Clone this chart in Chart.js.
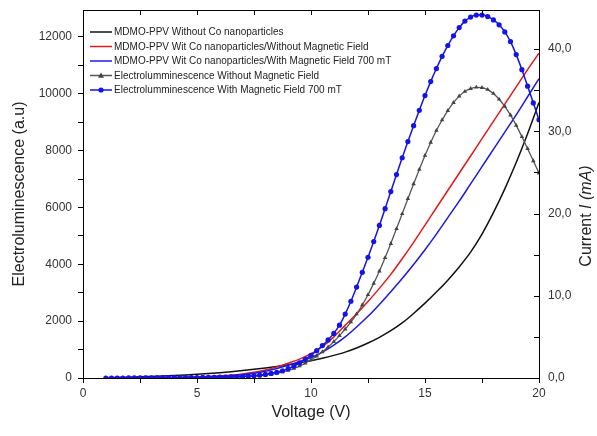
<!DOCTYPE html>
<html><head><meta charset="utf-8">
<script src="https://cdn.jsdelivr.net/npm/chart.js@4"></script>
<style>html,body{margin:0;padding:0;background:#fff;}</style>
</head><body>
<canvas id="c" width="597" height="436" style="width:597px;height:436px;display:block"></canvas>
<script>
// ---- data ----
const voltageEL = [1.0,1.25,1.5,1.75,2.0,2.25,2.5,2.75,3.0,3.25,3.5,3.75,4.0,4.25,4.5,4.75,5.0,5.25,5.5,5.75,6.0,6.25,6.5,6.75,7.0,7.25,7.5,7.75,8.0,8.25,8.5,8.75,9.0,9.25,9.5,9.75,10.0,10.25,10.5,10.75,11.0,11.25,11.5,11.75,12.0,12.25,12.5,12.75,13.0,13.25,13.5,13.75,14.0,14.25,14.5,14.75,15.0,15.25,15.5,15.75,16.0,16.25,16.5,16.75,17.0,17.25,17.5,17.75,18.0,18.25,18.5,18.75,19.0,19.25,19.5,19.75,20.0];
const elWithoutField = [0,0,0,0,0,5,5,5,5,5,5,10,10,10,10,15,15,15,20,20,25,30,35,40,50,60,70,85,105,135,170,215,270,340,420,520,640,770,920,1090,1280,1490,1720,1970,2250,2570,2930,3330,3760,4230,4730,5250,5780,6310,6830,7340,7830,8290,8710,9080,9410,9690,9920,10080,10180,10230,10220,10150,10010,9810,9560,9250,8890,8490,8070,7640,7210];
const elWithField = [0,0,0,0,5,5,5,5,5,5,10,10,10,10,15,15,15,20,20,25,30,35,40,45,55,65,80,100,125,160,200,255,330,420,530,660,800,960,1140,1340,1570,1860,2250,2700,3200,3720,4250,4800,5370,5960,6560,7160,7750,8320,8880,9420,9940,10430,10890,11320,11700,12040,12330,12560,12700,12770,12770,12720,12600,12430,12180,11840,11380,10850,10270,9680,9090];

const voltageI = [1.0,1.5,2.0,2.5,3.0,3.5,4.0,4.5,5.0,5.5,6.0,6.5,7.0,7.5,8.0,8.5,9.0,9.5,10.0,10.5,11.0,11.5,12.0,12.5,13.0,13.5,14.0,14.5,15.0,15.5,16.0,16.5,17.0,17.5,18.0,18.5,19.0,19.5,20.0];
const currentNoCo = [0.04,0.07,0.1,0.14,0.19,0.24,0.3,0.37,0.45,0.54,0.64,0.76,0.9,1.05,1.22,1.4,1.6,1.85,2.1,2.4,2.75,3.15,3.65,4.25,4.95,5.75,6.7,7.85,9.1,10.45,11.9,13.5,15.3,17.5,20.1,23.0,26.2,29.7,33.5];
const currentCoNoField = [0,0,0,0.02,0.03,0.05,0.07,0.1,0.13,0.18,0.25,0.35,0.5,0.7,0.98,1.35,1.8,2.3,2.95,3.8,5.0,6.4,7.8,9.3,10.9,12.6,14.5,16.5,18.6,20.7,22.8,24.9,27.0,29.1,31.2,33.3,35.4,37.5,39.5];
const currentCoField = [0,0,0,0.01,0.02,0.03,0.05,0.07,0.1,0.14,0.2,0.28,0.4,0.58,0.82,1.15,1.55,2.0,2.5,3.15,4.0,5.0,6.2,7.5,8.95,10.5,12.1,13.8,15.6,17.5,19.5,21.5,23.6,25.7,27.8,29.9,32.0,34.2,36.4];

// tick positions (major ones get labels)
const xTicks = [0,2.5,5,7.5,10,12.5,15,17.5,20];
const xLabelTicks = [0,5,10,15,20];
const yTicks = [0,1000,2000,3000,4000,5000,6000,7000,8000,9000,10000,11000,12000];
const yLabelTicks = [0,2000,4000,6000,8000,10000,12000];
const y2Ticks = [0,5,10,15,20,25,30,35,40];
const y2LabelTicks = [0,10,20,30,40];

const seriesLabels = [
  'MDMO-PPV Without Co nanoparticles',
  'MDMO-PPV Wit Co nanoparticles/Without Magnetic Field',
  'MDMO-PPV Wit Co nanoparticles/With Magnetic Field 700 mT',
  'Electrolumminescence Without Magnetic Field',
  'Electrolumminescence With Magnetic Field 700 mT'
];
const xTitle = 'Voltage (V)';
const yTitle = 'Electroluminescence (a.u)';
const y2TitleParts = ['Current ', 'I (mA)'];

const FONT = '"Liberation Sans", Arial, sans-serif';
const pts = (xs, ys) => xs.map((x, i) => ({x, y: ys[i]}));
const setTicks = arr => s => { s.ticks = arr.map(v => ({value: v})); };
const fitV = w => s => { s.width = w; s.paddingTop = 0; s.paddingBottom = 0; };

const inwardTicks = {
  id: 'inwardTicks',
  afterDraw(chart) {
    const {ctx, chartArea: a, scales} = chart;
    ctx.save();
    ctx.strokeStyle = '#000';
    ctx.lineWidth = 1;
    ctx.beginPath();
    ctx.moveTo(a.left, a.top + 0.5); ctx.lineTo(a.right, a.top + 0.5);
    scales.x.ticks.forEach(t => {
      const px = Math.round(scales.x.getPixelForValue(t.value)) + 0.5;
      ctx.moveTo(px, a.top); ctx.lineTo(px, a.top + 5);
    });
    scales.y2.ticks.forEach(t => {
      const py = Math.round(scales.y2.getPixelForValue(t.value)) + 0.5;
      ctx.moveTo(a.right - 5, py); ctx.lineTo(a.right, py);
    });
    ctx.stroke();

    // right axis title (bottom-to-top, mixed upright/italic)
    ctx.fillStyle = '#222';
    ctx.translate(587, 216);
    ctx.rotate(-Math.PI / 2);
    ctx.font = '16px ' + FONT;
    const w1 = ctx.measureText(y2TitleParts[0]).width;
    ctx.font = 'italic 16px ' + FONT;
    const w2 = ctx.measureText(y2TitleParts[1]).width;
    let x0 = -(w1 + w2) / 2;
    ctx.textBaseline = 'middle';
    ctx.font = '16px ' + FONT;
    ctx.fillText(y2TitleParts[0], x0, 0);
    ctx.font = 'italic 16px ' + FONT;
    ctx.fillText(y2TitleParts[1], x0 + w1, 0);
    ctx.restore();

    // legend inside the plot area
    ctx.save();
    const rows = [32, 46.5, 61, 75.5, 90];
    ctx.font = '10px ' + FONT;
    ctx.textBaseline = 'middle';
    chart.data.datasets.forEach((ds, i) => {
      const y = rows[i];
      const lx = a.left + 7;
      ctx.strokeStyle = ds.borderColor;
      ctx.lineWidth = 1.5;
      ctx.beginPath(); ctx.moveTo(lx, y); ctx.lineTo(lx + 22, y); ctx.stroke();
      if (ds.pointRadius > 0) {
        ctx.fillStyle = ds.pointBackgroundColor;
        ctx.beginPath();
        if (ds.pointStyle === 'triangle') {
          ctx.moveTo(lx + 11, y - 3); ctx.lineTo(lx + 14, y + 2.2); ctx.lineTo(lx + 8, y + 2.2); ctx.closePath();
        } else {
          ctx.arc(lx + 11, y, 2.6, 0, Math.PI * 2);
        }
        ctx.fill();
      }
      ctx.fillStyle = '#222';
      ctx.fillText(ds.label, lx + 24, y + 0.5);
    });
    ctx.restore();
  }
};

new Chart(document.getElementById('c'), {
  type: 'line',
  data: {
    datasets: [
      {label: seriesLabels[0], data: pts(voltageI, currentNoCo), yAxisID: 'y2', borderColor: '#111', borderWidth: 1.5, pointRadius: 0, cubicInterpolationMode: 'monotone', order: 5},
      {label: seriesLabels[1], data: pts(voltageI, currentCoNoField), yAxisID: 'y2', borderColor: '#e41a1a', borderWidth: 1.5, pointRadius: 0, cubicInterpolationMode: 'monotone', order: 4},
      {label: seriesLabels[2], data: pts(voltageI, currentCoField), yAxisID: 'y2', borderColor: '#1a1ae0', borderWidth: 1.5, pointRadius: 0, cubicInterpolationMode: 'monotone', order: 3},
      {label: seriesLabels[3], data: pts(voltageEL, elWithoutField), yAxisID: 'y', borderColor: '#555', borderWidth: 1.3, pointStyle: 'triangle', pointRadius: 2.6, pointBackgroundColor: '#444', pointBorderColor: '#444', pointBorderWidth: 0, cubicInterpolationMode: 'monotone', order: 2},
      {label: seriesLabels[4], data: pts(voltageEL, elWithField), yAxisID: 'y', borderColor: '#1414e8', borderWidth: 1.5, pointStyle: 'circle', pointRadius: 2.6, pointBackgroundColor: '#1414e8', pointBorderColor: '#1414e8', pointBorderWidth: 0, cubicInterpolationMode: 'monotone', order: 1}
    ]
  },
  options: {
    responsive: false,
    animation: false,
    devicePixelRatio: 1,
    layout: {padding: {top: 10, left: 0, right: 0, bottom: 0}},
    plugins: {legend: {display: false}, tooltip: {enabled: false}},
    scales: {
      x: {
        type: 'linear', min: 0, max: 20,
        afterFit: s => { s.height = 58; s.paddingLeft = 0; s.paddingRight = 0; },
        afterBuildTicks: setTicks(xTicks),
        ticks: {maxRotation: 0, autoSkip: false, padding: 3, color: '#333', font: {family: FONT, size: 12},
          callback: v => (xLabelTicks.includes(v) ? String(v) : '')},
        grid: {drawOnChartArea: false, drawTicks: true, tickLength: 5, color: '#000'},
        border: {display: true, color: '#000', width: 1},
        title: {display: true, text: xTitle, color: '#222', font: {family: FONT, size: 16}, padding: {top: 0, bottom: 14}}
      },
      y: {
        type: 'linear', position: 'left', min: 0, max: 12950,
        afterFit: fitV(83),
        afterBuildTicks: setTicks(yTicks),
        ticks: {autoSkip: false, padding: 6, color: '#333', font: {family: FONT, size: 12},
          callback: v => (yLabelTicks.includes(v) ? String(v) : '')},
        grid: {drawOnChartArea: false, drawTicks: true, tickLength: 5, color: '#000'},
        border: {display: true, color: '#000', width: 1},
        title: {display: true, text: yTitle, color: '#222', font: {family: FONT, size: 16}, padding: {top: 10, bottom: 0}}
      },
      y2: {
        type: 'linear', position: 'right', min: 0, max: 44.75,
        afterFit: fitV(58),
        afterBuildTicks: setTicks(y2Ticks),
        ticks: {autoSkip: false, padding: 9, color: '#333', font: {family: FONT, size: 12},
          callback: v => (y2LabelTicks.includes(v) ? v.toFixed(1).replace('.', ',') : '')},
        grid: {drawOnChartArea: false, drawTicks: false, color: '#000'},
        border: {display: true, color: '#000', width: 1}
      }
    }
  },
  plugins: [inwardTicks]
});
</script>
</body></html>
